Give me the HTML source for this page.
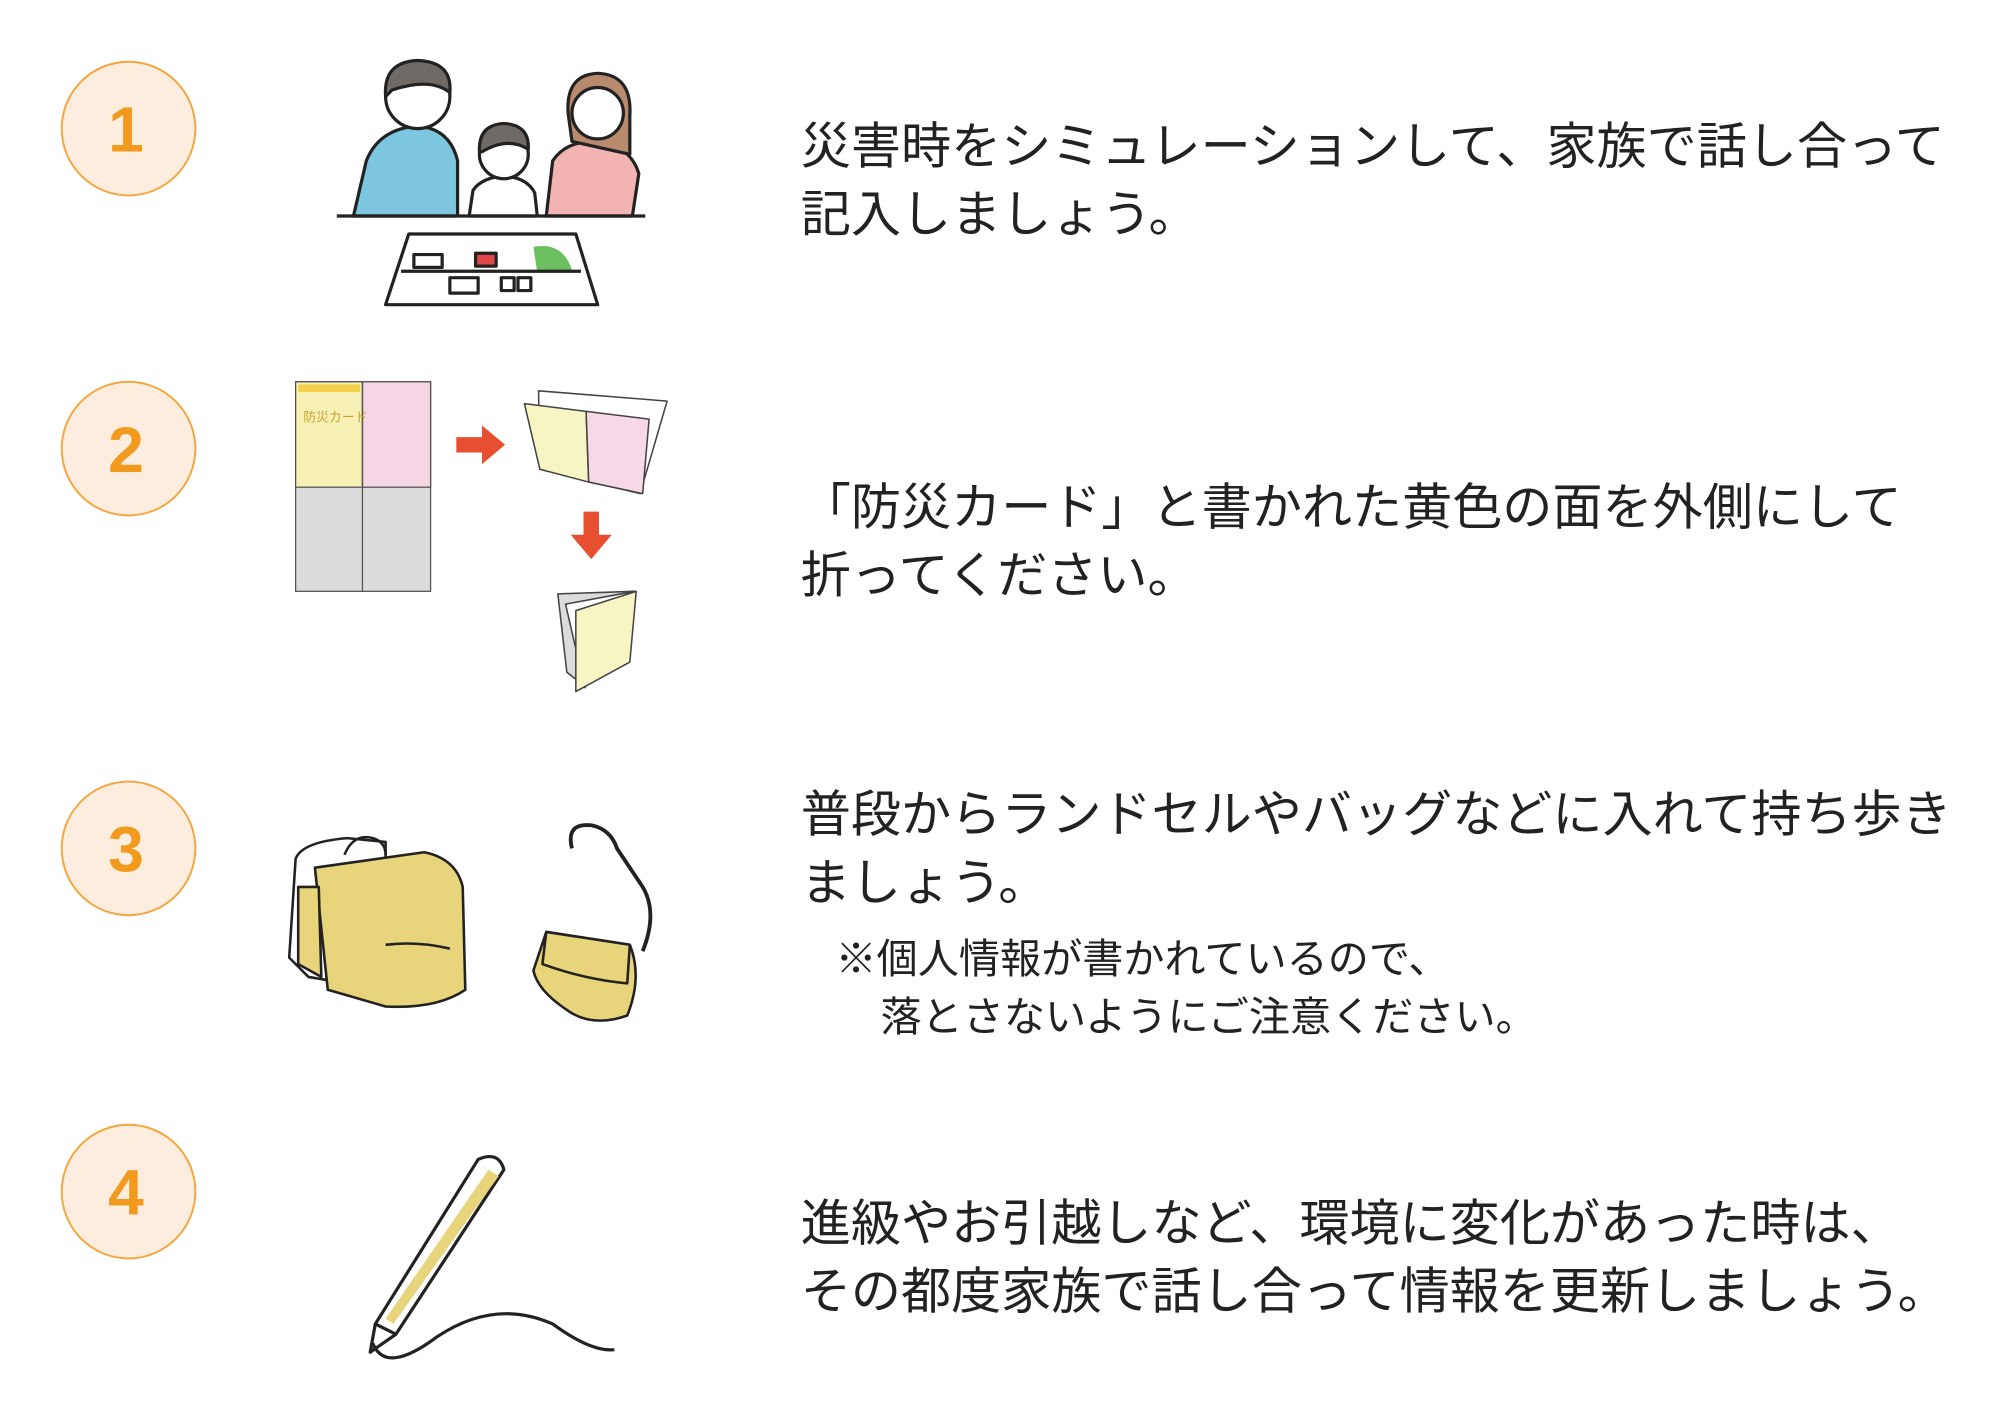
<!DOCTYPE html>
<html><head><meta charset="utf-8"><style>
html,body{margin:0;padding:0;background:#fff;}
svg{display:block;}
text{font-family:"Liberation Sans","Noto Sans CJK JP",sans-serif;fill:#222;}
.n{font-family:"Liberation Sans",sans-serif;fill:#f29a1e;font-weight:bold;font-size:50px;}
</style></head><body>
<svg width="2000" height="1414" viewBox="0 0 1556 1100" xmlns="http://www.w3.org/2000/svg">
<rect width="1556" height="1100" fill="#fff"/>
<g fill="#fdeddf" stroke="#f5a53a" stroke-width="1.5">
<circle cx="100" cy="100" r="52"/><circle cx="100" cy="349" r="52"/><circle cx="100" cy="660" r="52"/><circle cx="100" cy="927" r="52"/>
</g>
<text class="n" x="98" y="118" text-anchor="middle">1</text>
<text class="n" x="98" y="367" text-anchor="middle">2</text>
<text class="n" x="98" y="678" text-anchor="middle">3</text>
<text class="n" x="98" y="945" text-anchor="middle">4</text>

<g font-size="39">
<text x="623" y="127">災害時をシミュレーションして、家族で話し合って</text>
<text x="623" y="180">記入しましょう。</text>
<text x="623" y="408">「防災カード」と書かれた黄色の面を外側にして</text>
<text x="623" y="461">折ってください。</text>
<text x="623" y="647">普段からランドセルやバッグなどに入れて持ち歩き</text>
<text x="623" y="700">ましょう。</text>
<text x="623" y="965">進級やお引越しなど、環境に変化があった時は、</text>
<text x="623" y="1018">その都度家族で話し合って情報を更新しましょう。</text>
</g>
<g font-size="32">
<text x="650" y="757">※個人情報が書かれているので、</text>
<text x="685" y="802">落とさないようにご注意ください。</text>
</g>

<!-- illustration 1 -->
<g stroke="#222" stroke-width="2.5" stroke-linejoin="round">
<path d="M275 168 L285 125 Q295 100 325 98 Q350 100 356 125 L356 168 Z" fill="#7cc6e0"/>
<circle cx="325" cy="75" r="25" fill="#fff"/>
<path d="M300 75 Q298 48 325 47 Q352 48 350 72 Q335 60 305 70 Z" fill="#6f6a66"/>
<path d="M425 168 L430 125 Q440 110 462 110 Q490 112 497 135 L492 168 Z" fill="#f2b4b2"/>
<path d="M442 88 Q440 58 465 57 Q492 58 490 90 L490 120 L445 110 Z" fill="#b88a6e"/>
<circle cx="465" cy="88" r="20" fill="#fff"/>
<path d="M365 168 L368 148 Q375 138 392 137 Q410 138 416 150 L418 168 Z" fill="#fff"/>
<circle cx="392" cy="120" r="19" fill="#fff"/>
<path d="M373 118 Q372 97 392 96 Q412 97 411 116 Q395 106 375 118 Z" fill="#6f6a66"/>
<line x1="262" y1="168" x2="502" y2="168"/>
<path d="M318 182 L448 182 L465 237 L300 237 Z" fill="#fff"/>
<path d="M415 192 Q438 188 445 210 L418 212 Z" fill="#6cbf5f" stroke="none"/>
<rect x="370" y="197" width="16" height="10" fill="#e0474a"/>
<rect x="322" y="198" width="22" height="10" fill="#fff"/>
<rect x="350" y="216" width="22" height="12" fill="#fff"/>
<rect x="390" y="216" width="10" height="10" fill="#fff"/><rect x="403" y="216" width="10" height="10" fill="#fff"/>
<line x1="312" y1="211" x2="452" y2="211"/>
</g>

<!-- illustration 2 -->
<g stroke="#555" stroke-width="1">
<rect x="230" y="297" width="105" height="163" fill="#dcdcdc"/>
<rect x="230" y="297" width="52" height="82" fill="#f7f1b6"/>
<rect x="282" y="297" width="53" height="82" fill="#f6d6e4"/>
<line x1="282" y1="297" x2="282" y2="460"/>
</g>
<rect x="232" y="299" width="48" height="6" fill="#f3cf4a"/>
<text x="236" y="328" font-size="10" style="fill:#c9a22a">防災カード</text>
<g fill="#e84f30">
<path d="M355 340 L375 340 L375 331 L393 346 L375 361 L375 352 L355 352 Z"/>
<path d="M454 398 L466 398 L466 416 L476 416 L460 435 L444 416 L454 416 Z"/>
</g>
<g stroke="#444" stroke-width="1.2" stroke-linejoin="round">
<path d="M419 304 L519 312 L498 384 L420 365 Z" fill="#fff"/>
<path d="M408 314 L456 320 L458 375 L420 365 Z" fill="#f7f5c4"/>
<path d="M456 320 L505 326 L500 384 L458 375 Z" fill="#f6d8e6"/>
<path d="M436 463 L494 460 L488 510 Z" fill="#fff"/>
<path d="M434 462 L494 460 L450 530 L441 523 Z" fill="#dcdcdc"/>
<path d="M440 470 L494 460 L455 535 Z" fill="#fff"/>
<path d="M448 475 L495 460 L490 515 L448 538 Z" fill="#f7f5c4"/>
</g>

<!-- illustration 3 -->
<g stroke="#222" stroke-width="2" stroke-linejoin="round">
<path d="M230 668 Q235 655 270 652 L300 655 L300 770 L240 760 L225 745 Z" fill="#fff"/>
<path d="M245 675 L330 663 Q355 668 360 690 L362 770 Q340 785 300 783 L255 770 Z" fill="#e8d47a"/>
<path d="M232 690 L248 690 L250 760 L232 750 Z" fill="#e8d47a"/>
<path d="M300 735 Q325 732 350 738" fill="none"/>
<path d="M268 665 Q275 648 290 652 Q300 655 300 665" fill="none"/>
<path d="M445 660 Q440 640 460 642 Q475 645 480 660 L500 690 Q512 710 500 740" fill="none" stroke-width="3"/>
<path d="M425 725 L490 735 Q500 760 488 790 Q460 800 440 785 Q418 770 415 755 Z" fill="#e8d47a"/>
<path d="M425 725 L490 735 L488 765 Q455 762 422 750 Z" fill="#e8d47a"/>
</g>

<!-- illustration 4 -->
<g stroke="#222" stroke-width="2.5" stroke-linejoin="round" fill="none">
<path d="M372 902 Q388 895 392 910 L308 1038 L292 1030 Z" fill="#fff"/>
<path d="M380 910 L388 915 L306 1030 L300 1026 Z" fill="#e8d47a" stroke="none"/>
<path d="M292 1030 L288 1052 L308 1038"/>
<path d="M290 1045 Q300 1070 340 1040 Q385 1010 430 1030 Q460 1052 478 1050"/>
</g>
</svg>
</body></html>
